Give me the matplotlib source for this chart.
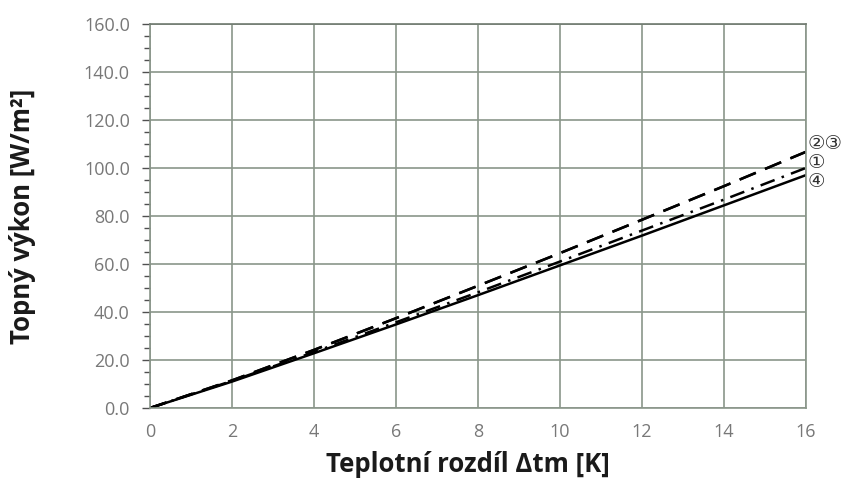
import matplotlib.pyplot as plt
import numpy as np

# temperature difference [K]
dt = [0, 2, 4, 6, 8, 10, 12, 14, 16]
# heating output [W/m2]
q1 = [0, 11.3, 23.3, 35.7, 48.2, 61.0, 73.9, 86.8, 100.0]   # (1) dash-dot
q2 = [0, 11.5, 24.2, 37.4, 50.9, 64.5, 78.4, 92.4, 106.7]   # (2) dashed
q3 = [0, 11.5, 24.2, 37.4, 50.9, 64.5, 78.4, 92.4, 106.7]   # (3) dashed
q4 = [0, 11.0, 22.8, 34.8, 47.0, 59.4, 71.8, 84.4, 97.0]    # (4) solid

xticks = [0, 2, 4, 6, 8, 10, 12, 14, 16]
yticks = [0, 20, 40, 60, 80, 100, 120, 140, 160]

grid_c = '#8a968a'
tick_c = '#787878'

fig = plt.figure(figsize=(8.45, 4.79), dpi=100)
ax = fig.add_axes([0.1775, 0.1482, 0.776, 0.8017])

ax.plot(dt, q4, color='black', lw=1.8, ls='-')
ax.plot(dt, q1, color='black', lw=1.8, ls=(0, (6, 3, 1, 3)))
ax.plot(dt, q2, color='black', lw=1.8, ls=(0, (7, 4)))
ax.plot(dt, q3, color='black', lw=1.8, ls=(0, (7, 4)))

ax.set_xlim(0, 16)
ax.set_ylim(0, 160)
ax.set_xticks(xticks)
ax.set_yticks(yticks)
ax.set_yticklabels([f'{v:.1f}' for v in yticks])
ax.set_yticks(np.arange(0, 161, 5), minor=True)
ax.grid(True, which='major', color=grid_c, lw=1.2)
ax.set_axisbelow(True)
for s in ax.spines.values():
    s.set_color(grid_c)
    s.set_linewidth(1.2)
ax.spines['top'].set_color('#707a70')

ax.tick_params(axis='x', which='major', length=0, pad=11, labelsize=13, labelcolor=tick_c)
ax.tick_params(axis='y', which='major', length=6, width=1, color='#505050', pad=8.5, labelsize=13, labelcolor=tick_c)
ax.tick_params(axis='y', which='minor', length=4, color='#505050', width=1)
for lbl in ax.get_xticklabels() + ax.get_yticklabels():
    lbl.set_family('Open Sans')

ax.set_xlabel('Teplotní rozdíl Δtm [K]', fontsize=18.5, fontweight='bold', family='Open Sans', color='#1a1a1a')
ax.set_ylabel('Topný výkon [W/m²]', fontsize=18.5, fontweight='bold', family='Open Sans', color='#1a1a1a')
ax.xaxis.set_label_coords(0.485, -0.112)
ax.yaxis.set_label_coords(-0.174, 0.5)

lab_font = ['DejaVu Sans', 'Noto Sans CJK SC']
ax.text(16.05, 110.4, '②③', fontsize=14, style='italic', family=lab_font, va='center', ha='left', clip_on=False, color='#333333')
ax.text(16.05, 102.5, '①', fontsize=14, style='italic', family=lab_font, va='center', ha='left', clip_on=False, color='#333333')
ax.text(16.05, 94.2, '④', fontsize=14, style='italic', family=lab_font, va='center', ha='left', clip_on=False, color='#333333')

fig.savefig('out.png', dpi=100)
